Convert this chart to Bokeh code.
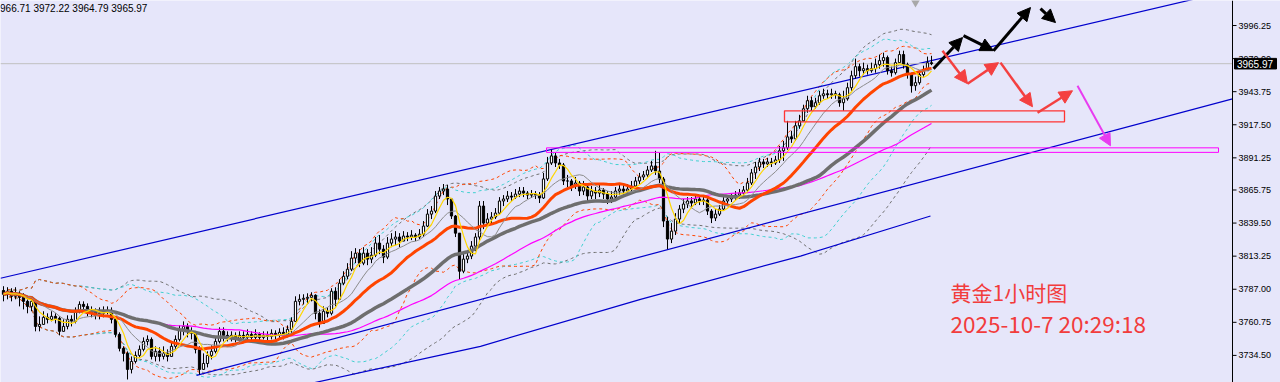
import pandas as pd
from bokeh.plotting import figure
from bokeh.models import (Range1d, Span, BoxAnnotation, Arrow, NormalHead, Label,
                          ColumnDataSource)
from bokeh.core.properties import value
from bokeh.embed import file_html
from bokeh.resources import INLINE

# ---------------- data (XAUUSD H1) ----------------
first_open = 3786.0
closes = [
    3783.0, 3785.4, 3781.4, 3783.8, 3780.6, 3777.4, 3773.4, 3777.4, 3757.5, 3759.1,
    3764.7, 3763.1, 3765.5, 3763.9, 3753.6, 3757.5, 3763.1, 3761.5, 3769.5, 3775.0,
    3773.4, 3767.9, 3769.5, 3766.3, 3767.9, 3769.5, 3770.3, 3763.1, 3751.2, 3740.1,
    3736.1, 3723.4, 3729.7, 3734.5, 3739.3, 3745.6, 3747.2, 3733.7, 3737.7, 3733.7,
    3736.1, 3733.7, 3741.7, 3747.2, 3755.2, 3757.5, 3753.6, 3752.0, 3739.3, 3723.4,
    3728.1, 3734.5, 3737.7, 3745.6, 3753.6, 3750.4, 3748.8, 3750.4, 3748.0, 3750.4,
    3748.8, 3751.2, 3748.8, 3751.2, 3748.8, 3750.4, 3749.6, 3752.0, 3750.4, 3752.8,
    3751.2, 3755.2, 3761.5, 3777.4, 3779.0, 3779.8, 3780.6, 3782.2, 3767.9, 3759.9,
    3769.5, 3767.9, 3785.4, 3779.0, 3791.8, 3797.3, 3802.9, 3811.7, 3815.6, 3807.7,
    3815.6, 3810.9, 3814.0, 3823.6, 3818.8, 3812.5, 3823.6, 3826.8, 3828.4, 3825.2,
    3829.2, 3828.4, 3829.9, 3828.4, 3830.7, 3837.1, 3846.6, 3849.0, 3860.9, 3864.9,
    3866.5, 3858.6, 3845.1, 3831.5, 3801.3, 3810.9, 3813.3, 3821.2, 3828.4, 3853.0,
    3839.5, 3842.7, 3844.3, 3847.4, 3857.0, 3858.6, 3860.9, 3860.1, 3862.5, 3864.9,
    3863.3, 3861.7, 3862.5, 3861.7, 3859.4, 3874.5, 3887.2, 3892.8, 3887.2, 3885.6,
    3872.9, 3872.9, 3868.9, 3871.3, 3864.9, 3868.1, 3861.0, 3864.9, 3863.3, 3865.7,
    3862.5, 3858.6, 3860.1, 3864.9, 3866.5, 3864.9, 3866.5, 3868.9, 3872.9, 3876.1,
    3877.7, 3881.6, 3884.8, 3880.8, 3874.5, 3841.1, 3826.8, 3833.1, 3842.7, 3850.6,
    3854.6, 3857.0, 3855.4, 3858.6, 3857.0, 3857.8, 3849.0, 3843.5, 3846.6, 3850.6,
    3857.0, 3858.6, 3860.1, 3861.7, 3863.3, 3865.7, 3871.3, 3879.3, 3884.0, 3888.0,
    3886.4, 3888.0, 3887.2, 3889.6, 3896.8, 3899.2, 3907.9, 3906.3, 3916.7, 3920.6,
    3930.2, 3936.6, 3931.8, 3935.0, 3940.5, 3942.1, 3941.3, 3942.1, 3941.3, 3935.0,
    3938.1, 3946.9, 3956.4, 3963.6, 3960.4, 3962.0, 3960.4, 3962.0, 3965.2, 3968.4,
    3970.8, 3960.4, 3958.8, 3966.8, 3973.2, 3965.2, 3958.0, 3948.5, 3950.9, 3957.3,
    3960.4, 3966.71, 3965.97,
]
highs = [
    3789.4, 3788.6, 3787.8, 3788.6, 3785.4, 3783.8, 3779.0, 3780.6, 3777.4, 3765.5,
    3769.5, 3767.9, 3769.5, 3767.9, 3765.5, 3763.1, 3766.3, 3766.3, 3772.6, 3777.4,
    3777.4, 3775.8, 3773.4, 3771.8, 3772.6, 3773.4, 3773.4, 3772.6, 3764.7, 3752.8,
    3741.7, 3737.7, 3733.7, 3737.7, 3742.4, 3748.8, 3750.4, 3748.8, 3741.7, 3740.9,
    3741.7, 3739.3, 3745.6, 3750.4, 3758.3, 3761.5, 3759.9, 3756.8, 3753.6, 3741.7,
    3736.1, 3737.7, 3742.4, 3748.8, 3756.8, 3756.8, 3753.6, 3753.6, 3752.8, 3753.6,
    3753.6, 3755.2, 3753.6, 3755.2, 3752.8, 3753.6, 3753.6, 3755.2, 3754.4, 3756.0,
    3756.8, 3758.3, 3764.7, 3781.4, 3783.0, 3783.0, 3783.8, 3784.6, 3783.0, 3771.0,
    3773.4, 3772.6, 3787.8, 3788.6, 3795.0, 3801.3, 3807.7, 3817.2, 3819.6, 3818.8,
    3820.4, 3818.8, 3820.4, 3828.4, 3830.0, 3822.0, 3828.4, 3831.5, 3833.1, 3831.5,
    3833.1, 3832.3, 3833.9, 3831.5, 3834.7, 3841.1, 3850.6, 3853.0, 3864.9, 3868.1,
    3870.5, 3869.7, 3858.6, 3845.9, 3831.5, 3815.6, 3817.2, 3825.2, 3831.5, 3857.0,
    3857.0, 3847.4, 3848.2, 3851.4, 3860.1, 3861.7, 3864.9, 3864.1, 3866.5, 3868.1,
    3868.1, 3864.9, 3865.7, 3864.9, 3864.1, 3879.3, 3892.0, 3897.6, 3895.2, 3890.4,
    3887.2, 3877.7, 3874.5, 3876.1, 3872.9, 3872.9, 3868.9, 3868.9, 3868.1, 3869.7,
    3867.3, 3864.9, 3864.9, 3868.1, 3869.7, 3869.7, 3870.5, 3872.9, 3876.1, 3879.3,
    3880.8, 3884.8, 3888.8, 3896.8, 3895.2, 3876.1, 3844.3, 3839.5, 3847.4, 3853.8,
    3858.6, 3860.1, 3860.1, 3861.7, 3861.7, 3860.9, 3860.1, 3850.6, 3850.6, 3853.8,
    3860.1, 3861.7, 3863.3, 3864.9, 3866.5, 3868.9, 3875.3, 3882.4, 3888.0, 3891.2,
    3890.4, 3891.2, 3891.2, 3892.8, 3900.7, 3904.7, 3920.6, 3912.7, 3920.6, 3925.4,
    3933.4, 3940.5, 3939.7, 3938.9, 3944.5, 3946.1, 3945.3, 3946.1, 3944.5, 3942.9,
    3944.5, 3950.9, 3960.4, 3970.0, 3966.0, 3966.8, 3965.2, 3966.8, 3970.0, 3973.2,
    3974.7, 3972.4, 3963.6, 3970.0, 3976.3, 3976.3, 3966.8, 3958.8, 3955.7, 3960.4,
    3964.4, 3971.6, 3972.22,
]
lows = [
    3777.4, 3779.0, 3777.4, 3779.0, 3773.4, 3771.0, 3767.9, 3769.5, 3753.6, 3753.6,
    3759.9, 3759.9, 3761.5, 3759.9, 3750.4, 3753.6, 3755.2, 3757.5, 3759.9, 3767.9,
    3769.5, 3765.5, 3764.7, 3763.1, 3763.1, 3764.7, 3767.1, 3759.9, 3748.8, 3737.7,
    3729.7, 3715.4, 3720.2, 3728.1, 3732.9, 3737.7, 3742.4, 3731.3, 3729.7, 3729.7,
    3731.3, 3729.7, 3737.7, 3739.3, 3745.6, 3750.4, 3748.8, 3747.2, 3736.1, 3719.4,
    3723.4, 3725.0, 3731.3, 3736.1, 3744.0, 3745.6, 3745.6, 3745.6, 3744.8, 3745.6,
    3745.6, 3747.2, 3745.6, 3746.4, 3745.6, 3747.2, 3746.4, 3747.2, 3747.2, 3748.0,
    3747.2, 3748.8, 3751.2, 3763.1, 3774.2, 3775.0, 3775.8, 3777.4, 3763.1, 3756.7,
    3759.9, 3764.7, 3766.3, 3773.4, 3779.0, 3790.2, 3795.0, 3801.3, 3807.7, 3804.5,
    3806.1, 3806.1, 3807.7, 3812.5, 3814.8, 3807.7, 3810.9, 3820.4, 3822.0, 3820.4,
    3825.2, 3825.2, 3826.0, 3825.2, 3826.8, 3828.4, 3836.3, 3842.7, 3847.4, 3858.6,
    3861.7, 3853.8, 3842.7, 3828.4, 3795.0, 3799.7, 3807.7, 3810.9, 3817.2, 3825.2,
    3834.7, 3836.3, 3839.5, 3842.7, 3845.9, 3853.0, 3856.2, 3857.0, 3858.6, 3860.1,
    3860.1, 3858.6, 3859.4, 3858.6, 3855.4, 3858.6, 3872.9, 3885.6, 3884.0, 3882.4,
    3869.7, 3868.1, 3864.9, 3866.5, 3861.0, 3861.7, 3857.0, 3858.6, 3858.6, 3860.1,
    3858.6, 3854.6, 3855.4, 3858.6, 3861.7, 3861.0, 3861.7, 3864.1, 3867.3, 3870.5,
    3873.7, 3876.1, 3880.0, 3877.7, 3871.3, 3836.3, 3818.8, 3823.6, 3830.0, 3839.5,
    3847.4, 3851.4, 3851.4, 3853.8, 3853.8, 3853.8, 3845.9, 3839.5, 3841.1, 3845.1,
    3849.8, 3854.6, 3856.2, 3857.8, 3858.6, 3860.1, 3863.3, 3869.7, 3874.5, 3880.8,
    3883.2, 3884.0, 3884.0, 3885.6, 3887.2, 3888.8, 3897.6, 3903.1, 3904.7, 3914.3,
    3920.6, 3927.0, 3928.6, 3930.2, 3933.4, 3938.1, 3938.1, 3938.1, 3938.1, 3931.8,
    3928.6, 3936.6, 3944.5, 3954.1, 3955.7, 3957.3, 3957.3, 3958.8, 3958.8, 3962.0,
    3963.6, 3957.3, 3955.7, 3957.3, 3966.8, 3962.0, 3954.1, 3943.0, 3944.5, 3949.3,
    3955.7, 3960.4, 3964.79,
]
y_ticks = [3996.25, 3970.00, 3943.75, 3917.50, 3891.25, 3865.75, 3839.50,
           3813.25, 3787.00, 3760.75, 3734.50]
y_tick_labels = ["3996.25", "3970.00", "3943.75", "3917.50", "3891.25", "3865.75",
                 "3839.50", "3813.25", "3787.00", "3760.75", "3734.50"]
last_price = 3965.97
header_text = "3966.71 3972.22 3964.79 3965.97"
title_text = "黄金1小时图"
time_text = "2025-10-7 20:29:18"

# trend / channel lines (bar index, price)
upper_channel = ([-0.75, 307.25], [3795.7, 4024.3])
lower_channel = ([48.25, 307.25], [3718.6, 3938.1])
bottom_line = ([76.75, 119.25, 159.25, 199.25, 231.75], [3712.2, 3741.7, 3779.0, 3813.3, 3845.1])
magenta_zone = (135.75, 303.75, 3899.2, 3895.6)
red_zone = (195.25, 265.25, 3928.6, 3919.8)
black_arrows = [(232.5, 3962.0, 239.75, 3986.7), (240.0, 3988.3, 247.5, 3976.3),
                (247.5, 3976.3, 256.75, 4010.5), (259.25, 4009.7, 263.0, 3998.6)]
red_arrows = [(234.75, 3976.3, 241.0, 3950.1), (241.0, 3950.1, 248.75, 3966.8),
              (249.25, 3966.8, 257.25, 3931.8), (258.5, 3927.0, 267.25, 3944.5)]
magenta_arrow = (268.5, 3948.5, 276.75, 3900.8)

# ---------------- derived ----------------
n = len(closes)
idx = list(range(n))
opens = [first_open] + closes[:-1]
tops = [max(o, c) for o, c in zip(opens, closes)]
bots = [min(o, c) for o, c in zip(opens, closes)]
his = [max(h, t) for h, t in zip(highs, tops)]
los = [min(l, b) for l, b in zip(lows, bots)]
fills = ["white" if c >= o else "black" for o, c in zip(opens, closes)]

s = pd.Series(closes)
def sma(k):
    return s.rolling(k, min_periods=1).mean()
def band(k, m):
    mid = s.rolling(k, min_periods=1).mean()
    sd = s.rolling(k, min_periods=2).std(ddof=0).fillna(0)
    return mid + m * sd, mid - m * sd

BG = "#E6E6FA"
AXIS_X = 307.25          # price-scale edge (in bar units)
p = figure(width=1280, height=382, x_range=Range1d(-0.75, 319.25),
           y_range=Range1d(3713.0, 4016.1), output_backend="svg",
           toolbar_location=None, x_axis_location=None, y_axis_location=None,
           min_border=0, background_fill_color=BG, border_fill_color=BG,
           outline_line_color=None)
p.grid.visible = False

# bollinger-style dashed envelopes
for k, m, col in [(40, 2.0, "#707070"), (30, 2.0, "#40D0D0"), (20, 2.0, "#FF4500")]:
    up, dn = band(k, m)
    p.line(idx, up, line_color=col, line_width=1, line_dash="3 3")
    p.line(idx, dn, line_color=col, line_width=1, line_dash="3 3")

# channel lines
p.line(*upper_channel, line_color="#0000CD", line_width=1.2)
p.line(*lower_channel, line_color="#0000CD", line_width=1.2)
p.line(*bottom_line, line_color="#0000CD", line_width=1.2)

p.line([-0.75, AXIS_X], [last_price, last_price], line_color="#C0C0C0", line_width=1)
p.add_layout(BoxAnnotation(left=magenta_zone[0], right=magenta_zone[1], top=magenta_zone[2],
                           bottom=magenta_zone[3], fill_alpha=0, line_alpha=1.0,
                           line_color="#FF00FF", line_width=1))
p.add_layout(BoxAnnotation(left=red_zone[0], right=red_zone[1], top=red_zone[2],
                           bottom=red_zone[3], fill_alpha=0, line_alpha=1.0,
                           line_color="#FF3333", line_width=1.3))

# candles
src = ColumnDataSource(dict(x=idx, top=tops, bottom=bots, hi=his, lo=los, fill=fills))
p.segment(x0="x", y0="lo", x1="x", y1="hi", source=src, line_color="black", line_width=1)
p.vbar(x="x", width=0.55, top="top", bottom="bottom", source=src,
       fill_color="fill", line_color="black", line_width=1)

# moving averages
p.line(idx, sma(60), line_color="#FF00FF", line_width=1.2)
p.line(idx, sma(40), line_color="#6E6E6E", line_width=3.5)
p.line(idx, sma(20), line_color="#FF4500", line_width=3)
p.line(idx, sma(10), line_color="#8C8C8C", line_width=1)
p.line(idx, sma(5), line_color="#FFD700", line_width=1.2)

# arrows
for x0, y0, x1, y1 in black_arrows:
    p.add_layout(Arrow(end=NormalHead(size=13, fill_color="black", line_color="black"),
                       x_start=x0, y_start=y0, x_end=x1, y_end=y1,
                       line_color="black", line_width=3))
for x0, y0, x1, y1 in red_arrows:
    p.add_layout(Arrow(end=NormalHead(size=13, fill_color="#F44040", line_color="#F44040"),
                       x_start=x0, y_start=y0, x_end=x1, y_end=y1,
                       line_color="#F44040", line_width=2.5))
x0, y0, x1, y1 = magenta_arrow
p.add_layout(Arrow(end=NormalHead(size=12, fill_color="#E83CF0", line_color="#E83CF0"),
                   x_start=x0, y_start=y0, x_end=x1, y_end=y1,
                   line_color="#E83CF0", line_width=2))

# small shift marker at top
p.scatter([228], [4014.6], marker="inverted_triangle", size=9, fill_color="#A8A8A8", line_color=None)

# ---- price scale on the right (MT4 style) ----
p.add_layout(Span(location=AXIS_X, dimension="height", line_color="black", line_width=1))
p.segment(x0=[AXIS_X] * len(y_ticks), y0=y_ticks, x1=[AXIS_X + 1.0] * len(y_ticks), y1=y_ticks,
          line_color="black", line_width=1)
p.text(x=[AXIS_X + 1.5] * len(y_ticks), y=y_ticks, text=y_tick_labels,
       text_font=value("Liberation Sans"), text_font_size="9px", text_color="black",
       text_baseline="middle", text_align="left")
p.quad(left=[AXIS_X + 0.5], right=[AXIS_X + 11.0], top=[last_price + 4.2],
       bottom=[last_price - 4.2], fill_color="black", line_color="black")
p.text(x=[AXIS_X + 1.1], y=[last_price], text=[f"{last_price:.2f}"],
       text_font=value("Liberation Sans"), text_font_size="10px", text_color="white",
       text_baseline="middle", text_align="left")

# texts
p.add_layout(Label(x=-2.25, y=4014.0, text=header_text, text_baseline="top",
                   text_font="Liberation Sans", text_font_size="10px", text_color="black"))
p.add_layout(Label(x=236.75, y=3784.6, text=title_text, text_baseline="alphabetic",
                   text_font="Noto Sans CJK SC", text_font_size="21px", text_color="#F23C3C"))
p.add_layout(Label(x=236.75, y=3760.0, text=time_text, text_baseline="alphabetic",
                   text_font="Noto Sans CJK SC", text_font_size="22.5px", text_color="#F23C3C"))

open("out.html", "w").write(file_html(p, INLINE))
